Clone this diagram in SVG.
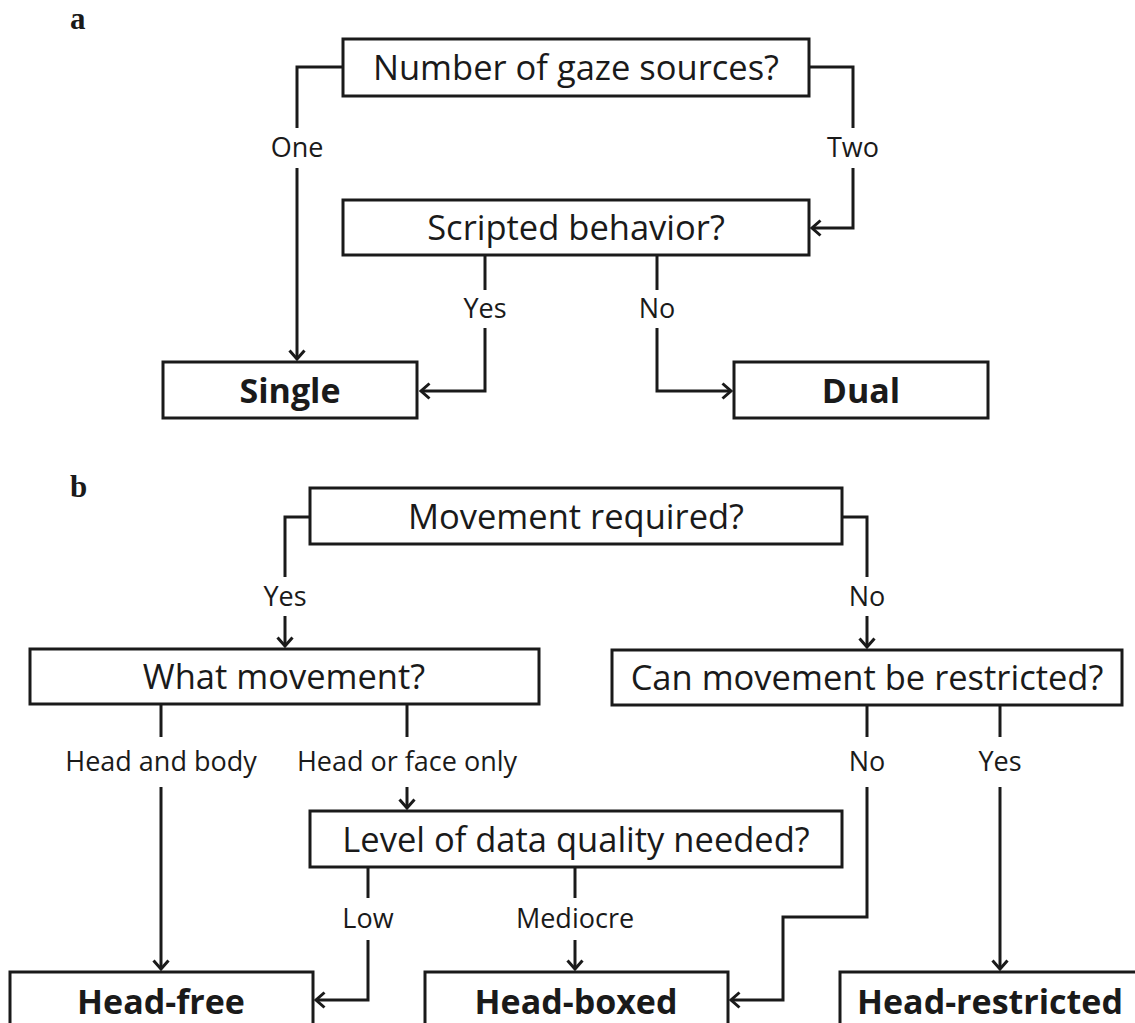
<svg xmlns="http://www.w3.org/2000/svg" width="1135" height="1023" viewBox="0 0 1135 1023">
<style>
.box{fill:#fff;stroke:#1a1a1a;stroke-width:3}
.q{font-family:"Open Sans","Noto Sans",sans-serif;font-size:34.5px;fill:#1a1a1a;text-anchor:middle}
.r{font-family:"Open Sans","Noto Sans",sans-serif;font-size:34px;font-weight:bold;fill:#1a1a1a;text-anchor:middle}
.lbl{font-family:"Open Sans","Noto Sans",sans-serif;font-size:27px;fill:#1a1a1a;text-anchor:middle}
.pl{font-family:"Liberation Serif","Times New Roman",serif;font-size:31px;font-weight:bold;fill:#1a1a1a}
.c{fill:none;stroke:#1a1a1a;stroke-width:3}
</style>
<defs>
<marker id="ah" viewBox="-12 -10 14 20" refX="0" refY="0" markerWidth="14" markerHeight="20" markerUnits="userSpaceOnUse" orient="auto">
<path d="M-8.5,-7.5 L0,0 L-8.5,7.5" fill="none" stroke="#1a1a1a" stroke-width="3"/>
</marker>
</defs>
<rect width="1135" height="1023" fill="#fff"/>
<text class="pl" x="70" y="29">a</text>
<text class="pl" x="70" y="497">b</text>
<g id="connectors">
<path class="c" d="M343,67 H297 V128"/>
<path class="c" d="M297,168 V359" marker-end="url(#ah)"/>
<path class="c" d="M809,67 H853 V128"/>
<path class="c" d="M853,168 V228 H812" marker-end="url(#ah)"/>
<path class="c" d="M485,255 V290"/>
<path class="c" d="M485,328 V391 H421" marker-end="url(#ah)"/>
<path class="c" d="M657,255 V290"/>
<path class="c" d="M657,328 V391 H731" marker-end="url(#ah)"/>
<path class="c" d="M310,517 H285 V577"/>
<path class="c" d="M285,616 V646" marker-end="url(#ah)"/>
<path class="c" d="M842,517 H867 V577"/>
<path class="c" d="M867,616 V647" marker-end="url(#ah)"/>
<path class="c" d="M161,704 V737"/>
<path class="c" d="M161,787 V969" marker-end="url(#ah)"/>
<path class="c" d="M407,704 V737"/>
<path class="c" d="M407,787 V808" marker-end="url(#ah)"/>
<path class="c" d="M867,705 V737"/>
<path class="c" d="M867,787 V917 H783 V1000 H731" marker-end="url(#ah)"/>
<path class="c" d="M1000,705 V737"/>
<path class="c" d="M1000,787 V969" marker-end="url(#ah)"/>
<path class="c" d="M368,867 V898"/>
<path class="c" d="M368,940 V1000 H316" marker-end="url(#ah)"/>
<path class="c" d="M575,867 V898"/>
<path class="c" d="M575,940 V969" marker-end="url(#ah)"/>
<text class="lbl" x="297" y="157">One</text>
<text class="lbl" x="853" y="157">Two</text>
<text class="lbl" x="485" y="318">Yes</text>
<text class="lbl" x="657" y="318">No</text>
<text class="lbl" x="285" y="606">Yes</text>
<text class="lbl" x="867" y="606">No</text>
<text class="lbl" x="161" y="771">Head and body</text>
<text class="lbl" x="407" y="771">Head or face only</text>
<text class="lbl" x="867" y="771">No</text>
<text class="lbl" x="1000" y="771">Yes</text>
<text class="lbl" x="368" y="928">Low</text>
<text class="lbl" x="575" y="928">Mediocre</text>
</g>
<g id="n-gaze"><rect class="box" x="343" y="39" width="466" height="57"/><text class="q" x="576" y="80">Number of gaze sources?</text></g>
<g id="n-scripted"><rect class="box" x="343" y="200" width="466" height="55"/><text class="q" x="576" y="240">Scripted behavior?</text></g>
<g id="n-single"><rect class="box" x="163" y="362" width="254" height="56"/><text class="r" x="290" y="403">Single</text></g>
<g id="n-dual"><rect class="box" x="734" y="362" width="254" height="56"/><text class="r" x="861" y="403">Dual</text></g>
<g id="n-movement"><rect class="box" x="310" y="488" width="532" height="56"/><text class="q" x="576" y="529">Movement required?</text></g>
<g id="n-what"><rect class="box" x="30" y="649" width="509" height="55"/><text class="q" x="284" y="689">What movement?</text></g>
<g id="n-can"><rect class="box" x="612" y="650" width="510" height="55"/><text class="q" x="867" y="690">Can movement be restricted?</text></g>
<g id="n-level"><rect class="box" x="310" y="811" width="532" height="56"/><text class="q" x="576" y="852">Level of data quality needed?</text></g>
<g id="n-headfree"><rect class="box" x="10" y="972" width="303" height="60"/><text class="r" x="161" y="1014">Head-free</text></g>
<g id="n-headboxed"><rect class="box" x="425" y="972" width="303" height="60"/><text class="r" x="576" y="1014">Head-boxed</text></g>
<g id="n-headrestricted"><rect class="box" x="840" y="972" width="302" height="60"/><text class="r" x="990" y="1014">Head-restricted</text></g>
</svg>
